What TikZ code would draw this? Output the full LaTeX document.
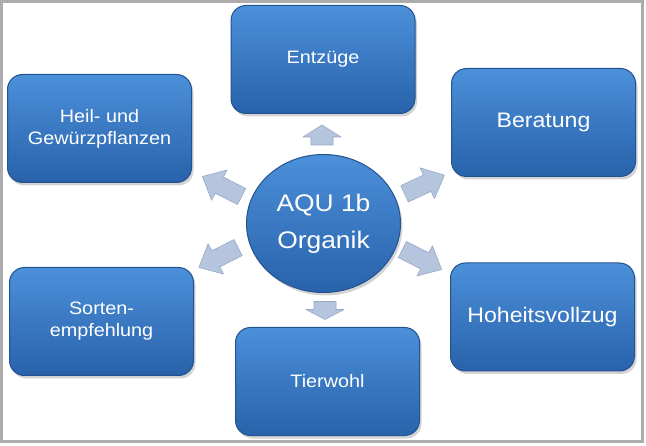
\documentclass[tikz,border=0pt]{standalone}
\usepackage{fontspec}
\newfontfamily\boxfont[FakeStretch=1.1]{Liberation Sans}
\usetikzlibrary{shapes.geometric,shadows}
\definecolor{boxtop}{RGB}{76,144,218}
\definecolor{boxbottom}{RGB}{40,98,170}
\definecolor{boxedge}{RGB}{34,82,144}
\definecolor{arrowfill}{RGB}{182,197,222}
\definecolor{arrowedge}{RGB}{150,168,198}
\definecolor{framegray}{RGB}{172,172,172}

\begin{document}
\begin{tikzpicture}[x = 1pt, y = 1pt,
  topic/.style = {draw = boxedge, line width = 1pt, top color = boxtop, bottom color = boxbottom, rounded corners = 15pt, minimum width = 184pt, minimum height = 108pt, text = white, align = center, drop shadow = {opacity = 0.35, shadow xshift = 2pt, shadow yshift = -3pt}, font = \boxfont\fontsize{18}{22}\selectfont},
  hub/.style = {ellipse, draw = boxedge, line width = 1pt, top color = boxtop, bottom color = boxbottom, minimum width = 154pt, minimum height = 138pt, inner sep = 0pt, text = white, align = center, drop shadow = {opacity = 0.35, shadow xshift = 2pt, shadow yshift = -3pt}, font = \boxfont\fontsize{24}{37}\selectfont},
  blockarrow/.style = {fill = arrowfill, draw = arrowedge, line width = 0.6pt, line join = round}]
\useasboundingbox (0,0) rectangle (646,445);
\draw[framegray, line width = 3pt] (1.5,4) rectangle (642,443.5);
% centre and topics
\node[hub] (org) at (323.5,221.5) {AQU 1b\\Organik};
\node[topic] (entz) at (323,385.5) {Entzüge};
\node[topic, font = \boxfont\fontsize{21}{25}\selectfont] (berat) at (543.5,322.5) {Beratung};
\node[topic] (heil) at (99.5,316.5) {Heil- und\\Gewürzpflanzen};
\node[topic] (sorten) at (101.5,123.5) {Sorten-\\empfehlung};
\node[topic] (tier) at (327.5,63.5) {Tierwohl};
\node[topic, font = \boxfont\fontsize{21}{25}\selectfont] (hoheit) at (542.5,128) {Hoheitsvollzug};
% block arrows
\draw[blockarrow, shift = {(322,310)}, rotate = 90] (-10,-11) -- (-2,-11) -- (-2,-19) -- (10,0) -- (-2,19) -- (-2,11) -- (-10,11) -- cycle;
\draw[blockarrow, shift = {(325,134.5)}, rotate = -90] (-9,-11) -- (-1,-11) -- (-1,-19) -- (9,0) -- (-1,19) -- (-1,11) -- (-9,11) -- cycle;
\draw[blockarrow, shift = {(222,258.5)}, rotate = 153] (-22,-9) -- (3,-9) -- (3,-17) -- (22,0) -- (3,17) -- (3,9) -- (-22,9) -- cycle;
\draw[blockarrow, shift = {(218.5,187.5)}, rotate = 207] (-22,-9) -- (3,-9) -- (3,-17) -- (22,0) -- (3,17) -- (3,9) -- (-22,9) -- cycle;
\draw[blockarrow, shift = {(424.5,260.5)}, rotate = 25] (-22,-9) -- (3,-9) -- (3,-17) -- (22,0) -- (3,17) -- (3,9) -- (-22,9) -- cycle;
\draw[blockarrow, shift = {(422,185.5)}, rotate = -27] (-22,-9) -- (3,-9) -- (3,-17) -- (22,0) -- (3,17) -- (3,9) -- (-22,9) -- cycle;
\end{tikzpicture}
\end{document}
